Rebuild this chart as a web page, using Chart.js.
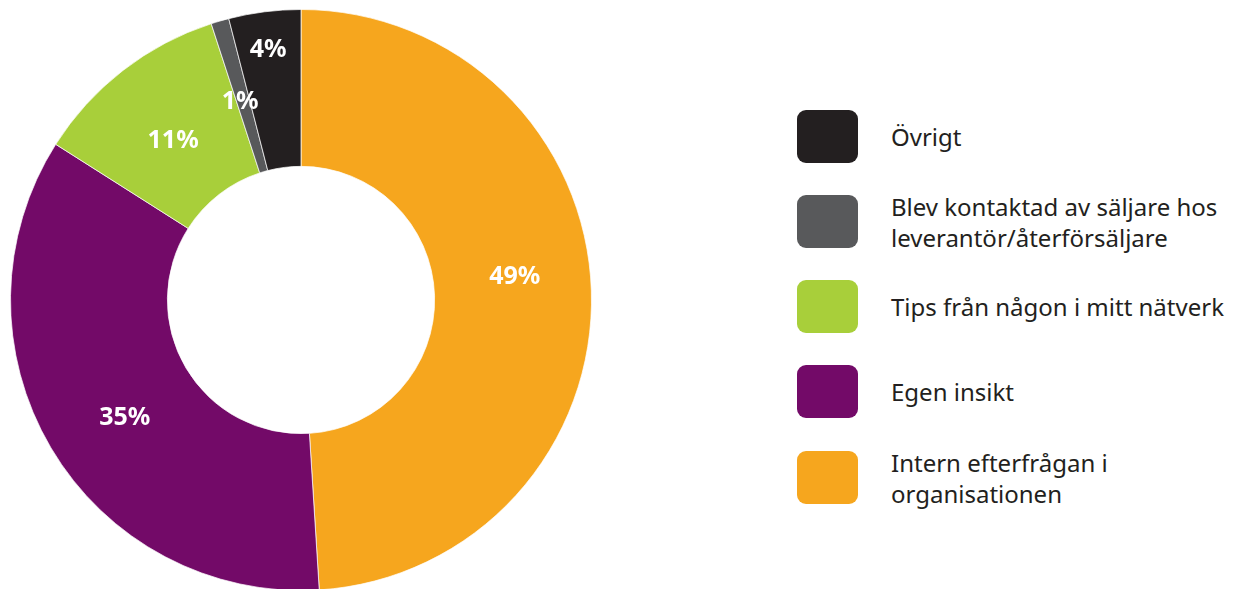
<!DOCTYPE html>
<html lang="sv">
<head>
<meta charset="utf-8">
<script src="https://cdn.jsdelivr.net/npm/chart.js@4/dist/chart.umd.min.js"></script>
<style>
  html, body { margin: 0; padding: 0; background: #fff; overflow: hidden; }
  body { width: 1243px; height: 589px; position: relative; font-family: 'Noto Sans', sans-serif; }
  #chartWrap { position: absolute; left: 0; top: 0; width: 602px; height: 600px; }
  #legend { position: absolute; left: 797px; top: 0; }
  .item { position: absolute; left: 0; display: flex; align-items: center; width: 440px; }
  .swatch { width: 61px; height: 53px; border-radius: 9px; flex: none; }
  .text { margin-left: 33px; font-size: 24px; line-height: 31px; color: #231f20; white-space: pre; }
</style>
</head>
<body>
<div id="chartWrap"><canvas id="donut"></canvas></div>
<div id="legend"></div>
<script>
// answers, in drawing order (clockwise from 12 o'clock)
const labels = [
  'Intern efterfrågan i\norganisationen',
  'Egen insikt',
  'Tips från någon i mitt nätverk',
  'Blev kontaktad av säljare hos\nleverantör/återförsäljare',
  'Övrigt',
];
const shares = [49, 35, 11, 1, 4];
const colors = ['#f6a61e', '#730a68', '#a8cf3a', '#58595b', '#231f20'];

// percent labels sit on the middle of the ring; a few are nudged a bit
// (extra radius in px, extra angle in degrees)
const labelShift = [[3, -4.3], [0, -3.2], [-8, -1], [-5, -0.9], [40, -0.3]];

const sliceLabels = {
  id: 'sliceLabels',
  afterDatasetsDraw(chart) {
    const ctx = chart.ctx;
    const arcs = chart.getDatasetMeta(0).data;
    ctx.save();
    ctx.fillStyle = '#fff';
    ctx.font = 'bold 25px "Noto Sans"';
    ctx.textAlign = 'center';
    ctx.textBaseline = 'middle';
    arcs.forEach((arc, i) => {
      const [dr, da] = labelShift[i] || [0, 0];
      const a = (arc.startAngle + arc.endAngle) / 2 + da * Math.PI / 180;
      const r = (arc.innerRadius + arc.outerRadius) / 2 + dr;
      ctx.fillText(shares[i] + '%', arc.x + Math.cos(a) * r, arc.y + Math.sin(a) * r);
    });
    ctx.restore();
  }
};

new Chart(document.getElementById('donut'), {
  type: 'doughnut',
  data: {
    labels: labels,
    datasets: [{
      data: shares,
      backgroundColor: colors,
      borderColor: 'rgba(255,255,255,0.7)',
      borderWidth: 1,
    }],
  },
  options: {
    responsive: true,
    maintainAspectRatio: false,
    animation: false,
    cutout: '46%',
    layout: { padding: 9 },
    plugins: { legend: { display: false }, tooltip: { enabled: false } },
  },
  plugins: [sliceLabels],
});

// legend lists the answers last slice first
const legend = document.getElementById('legend');
const tops = [136, 221, 306, 391, 477];
labels.slice().reverse().forEach((lab, k) => {
  const i = labels.length - 1 - k;
  const item = document.createElement('div');
  item.className = 'item';
  item.style.top = (tops[k] - 26) + 'px';
  item.style.height = '53px';
  item.innerHTML = '<div class="swatch" style="background:' + colors[i] + '"></div>' +
    '<div class="text"></div>';
  item.querySelector('.text').textContent = lab;
  legend.appendChild(item);
});
</script>
</body>
</html>
